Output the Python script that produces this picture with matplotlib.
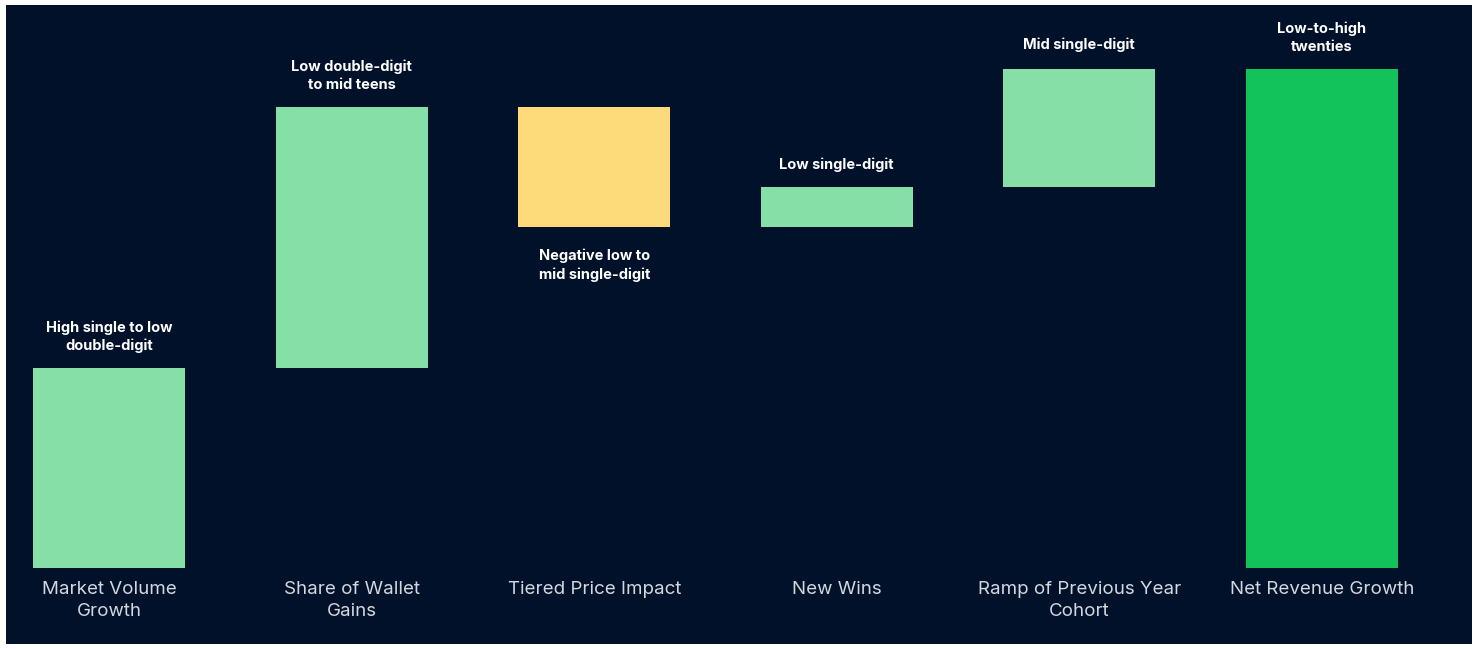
import matplotlib
matplotlib.use("Agg")
import matplotlib.pyplot as plt
from matplotlib.patches import Rectangle

categories = ["Market Volume\nGrowth", "Share of Wallet\nGains", "Tiered Price Impact",
              "New Wins", "Ramp of Previous Year\nCohort", "Net Revenue Growth"]
changes = [10.0, 13.1, -6.0, 2.0, 6.0, 25.0]
is_total = [False, False, False, False, False, True]
annotations = ["High single to low\ndouble-digit", "Low double-digit\nto mid teens",
               "Negative low to\nmid single-digit", "Low single-digit",
               "Mid single-digit", "Low-to-high\ntwenties"]

BG = "#01112a"
C_POS = "#86dfa6"
C_NEG = "#fdda7a"
C_TOT = "#12c35a"

W, H = 1475, 649
fig = plt.figure(figsize=(W / 100, H / 100), dpi=100)
fig.patch.set_facecolor("white")
bg = Rectangle((6 / W, 1 - 644 / H), (1472 - 6) / W, (644 - 5) / H,
               transform=fig.transFigure, facecolor=BG, edgecolor="none", zorder=-10)
fig.patches.append(bg)

width = 0.627
ax = fig.add_axes([33 / W, (H - 568) / H, (1398 - 33) / W, 499 / H])
ax.set_zorder(5)
ax.set_facecolor("none")
ax.patch.set_alpha(0)
ax.set_xlim(-width / 2, len(categories) - 1 + width / 2)
ax.set_ylim(0, 25)
for s in ax.spines.values():
    s.set_visible(False)
ax.set_yticks([])

running = 0.0
for i, (c, tot) in enumerate(zip(changes, is_total)):
    if tot:
        bottom, height, color = 0, c, C_TOT
    else:
        if c >= 0:
            bottom, height, color = running, c, C_POS
        else:
            bottom, height, color = running + c, -c, C_NEG
        running += c
    ax.bar(i, height, bottom=bottom, width=width, color=color, edgecolor="none")
    if c >= 0:
        ax.annotate(annotations[i], xy=(i, bottom + height), xytext=(0, 15),
                    textcoords="offset pixels", ha="center", va="bottom",
                    color="white", fontsize=10.5, fontweight="bold", family="Inter",
                    linespacing=1.35, annotation_clip=False)
    else:
        ax.annotate(annotations[i], xy=(i, bottom), xytext=(0, -22),
                    textcoords="offset pixels", ha="center", va="top",
                    color="white", fontsize=10.5, fontweight="bold", family="Inter",
                    linespacing=1.35, annotation_clip=False)

ax.set_xticks(range(len(categories)))
ax.set_xticklabels(categories, color="#d3d7de", fontsize=13.5, family="Inter", linespacing=1.45)
ax.tick_params(axis="x", length=0, pad=9)

fig.savefig("out.png", dpi=100, facecolor=fig.get_facecolor())
